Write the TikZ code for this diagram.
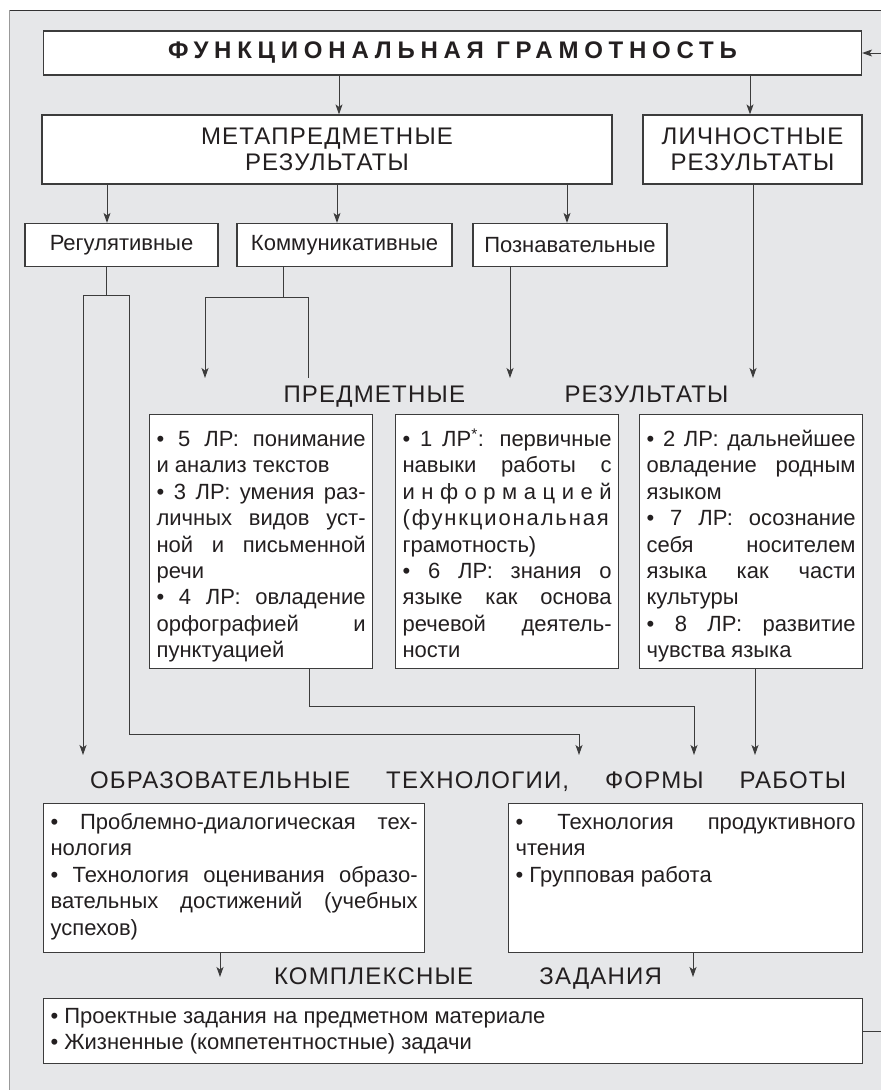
\documentclass[tikz,border=0pt]{standalone}
\usepackage{fontspec}
\setmainfont{Liberation Sans}
\newfontfamily\bodyfont{Liberation Sans}
\newfontfamily\capsfont[LetterSpace=5]{Liberation Sans}
\newfontfamily\titlefont[LetterSpace=24]{Liberation Sans}
\usetikzlibrary{arrows.meta}
\definecolor{panelgray}{HTML}{E6E7E9}
\definecolor{linegray}{HTML}{3C3C3C}
\definecolor{inkc}{HTML}{231F20}
\newcommand{\jl}[1]{\makebox[\hsize][s]{#1}}
\newcommand{\panel}[3]{\parbox[t][#2][t]{#1}{\strut#3}}
\tikzset{
  panelbox/.style={draw=linegray, fill=white, line width=1.2pt, text=inkc, inner sep=0pt},
  bodytext/.style={font=\bodyfont\fontsize{22}{26.4}\selectfont},
  capstext/.style={font=\capsfont\fontsize{24}{26}\selectfont, text=inkc},
  link/.style={draw=linegray, line width=1pt},
  arr/.style={link, -{Stealth[length=10pt,width=7pt,inset=2.5pt]}}
}
\begin{document}
\begin{tikzpicture}[x=1pt,y=-1pt]
\useasboundingbox (0,0) rectangle (881,1090);
\clip (0,0) rectangle (881,1090);
\fill[panelgray] (9,10) rectangle (900,1100);
\draw[black!80, line width=1pt] (9,10) -- (900,10);
\draw[black!40, line width=1pt] (9,10) -- (9,1100);

\node[panelbox, minimum width=818, minimum height=44, font=\titlefont\bfseries\fontsize{24}{26}\selectfont] (title) at (452.5,53) {ФУНКЦИОНАЛЬНАЯ ГРАМОТНОСТЬ};
\node[panelbox, capstext, align=center, minimum width=570, minimum height=69] (meta) at (327,149.5) {МЕТАПРЕДМЕТНЫЕ\\РЕЗУЛЬТАТЫ};
\node[panelbox, capstext, align=center, minimum width=219, minimum height=69] (lich) at (752.5,149.5) {ЛИЧНОСТНЫЕ\\РЕЗУЛЬТАТЫ};

\node[panelbox, bodytext, minimum width=193, minimum height=43] (reg) at (121.5,245) {Регулятивные};
\node[panelbox, bodytext, minimum width=215, minimum height=43] (komm) at (344.5,245) {Коммуникативные};
\node[panelbox, bodytext, minimum width=194, minimum height=43] (pozn) at (570,245) {Познавательные};

\node[capstext] (predlabel) at (506,397) {\makebox[445pt][s]{ПРЕДМЕТНЫЕ РЕЗУЛЬТАТЫ}};

\node[panelbox, bodytext, anchor=north west, inner xsep=7pt, inner ysep=13.5pt] (predA) at (149,414) {\panel{209pt}{227pt}{%
\jl{• 5 ЛР: понимание}\\
и анализ текстов\\
\jl{• 3 ЛР: умения раз-}\\
\jl{личных видов уст-}\\
\jl{ной и письменной}\\
речи\\
\jl{• 4 ЛР: овладение}\\
\jl{орфографией и}\\
пунктуацией}};
\node[panelbox, bodytext, anchor=north west, inner xsep=7pt, inner ysep=13.5pt] (predB) at (395,414) {\panel{209pt}{227pt}{%
\jl{• 1 ЛР\textsuperscript{*}: первичные}\\
\jl{навыки работы с}\\
\jl{и н ф о р м а ц и е й}\\
{\addfontfeature{LetterSpace=8.5}(функциональная}\\
грамотность)\\
\jl{• 6 ЛР: знания о}\\
\jl{языке как основа}\\
\jl{речевой деятель-}\\
ности}};
\node[panelbox, bodytext, anchor=north west, inner xsep=7pt, inner ysep=13.5pt] (predC) at (639,414) {\panel{209pt}{227pt}{%
\jl{• 2 ЛР: дальнейшее}\\
\jl{овладение родным}\\
языком\\
\jl{• 7 ЛР: осознание}\\
\jl{себя носителем}\\
\jl{языка как части}\\
культуры\\
\jl{• 8 ЛР: развитие}\\
чувства языка}};

\node[capstext] (techlabel) at (468,782) {\makebox[756pt][s]{ОБРАЗОВАТЕЛЬНЫЕ ТЕХНОЛОГИИ, ФОРМЫ РАБОТЫ}};

\node[panelbox, bodytext, anchor=north west, inner xsep=7pt, inner ysep=7.5pt] (techA) at (43,803) {\panel{367pt}{134pt}{%
\jl{• Проблемно-диалогическая тех-}\\
нология\\
\jl{• Технология оценивания образо-}\\
\jl{вательных достижений (учебных}\\
успехов)}};
\node[panelbox, bodytext, anchor=north west, inner xsep=7pt, inner ysep=7.5pt] (techB) at (508,803) {\panel{340pt}{134pt}{%
\jl{• Технология продуктивного}\\
чтения\\
• Групповая работа}};

\node[capstext] (tasklabel) at (468,978) {\makebox[388pt][s]{КОМПЛЕКСНЫЕ ЗАДАНИЯ}};

\node[panelbox, bodytext, anchor=north west, inner xsep=7pt, inner ysep=6.5pt] (tasks) at (43,998) {\panel{805pt}{52pt}{%
• Проектные задания на предметном материале\\
• Жизненные (компетентностные) задачи}};

\coordinate (regfork) at (106,295);
\coordinate (regbend) at (129,734);
\coordinate (kommfork) at (283,297);
\coordinate (predbend) at (309,706);
\coordinate (predin1) at (205,378);
\coordinate (predin2) at (308,378);
\coordinate (predin3) at (510,378);
\coordinate (predin4) at (753,378);
\coordinate (techin1) at (83,755);
\coordinate (techin2) at (579,755);
\coordinate (techin3) at (694,755);
\coordinate (techin4) at (755,755);
\coordinate (taskin1) at (220,977);
\coordinate (taskin2) at (693,977);
\coordinate (loopc) at (895,540);

\draw[arr] (title.south -| 339,0) -- (meta.north -| 339,0);
\draw[arr] (title.south -| 750,0) -- (lich.north -| 750,0);
\draw[arr] (meta.south -| 107,0) -- (reg.north -| 107,0);
\draw[arr] (meta.south -| 337,0) -- (komm.north -| 337,0);
\draw[arr] (meta.south -| 567,0) -- (pozn.north -| 567,0);

\draw[link] (reg.south -| regfork) -- (regfork);
\draw[arr] (regfork) -| (techin1);
\draw[arr] (regfork) -| (regbend) -| (techin2);
\draw[link] (komm.south -| kommfork) -- (kommfork);
\draw[arr] (kommfork) -| (predin1);
\draw[link] (kommfork) -| (predin2);
\draw[arr] (pozn.south -| predin3) -- (predin3);
\draw[arr] (lich.south -| predin4) -- (predin4);

\draw[arr] (predA.south -| predbend) -- (predbend) -| (techin3);
\draw[arr] (predC.south -| techin4) -- (techin4);
\draw[arr] (techA.south -| taskin1) -- (taskin1);
\draw[arr] (techB.south -| taskin2) -- (taskin2);
\draw[arr] (tasks.east) -| (loopc) |- (title.east);
\end{tikzpicture}
\end{document}
